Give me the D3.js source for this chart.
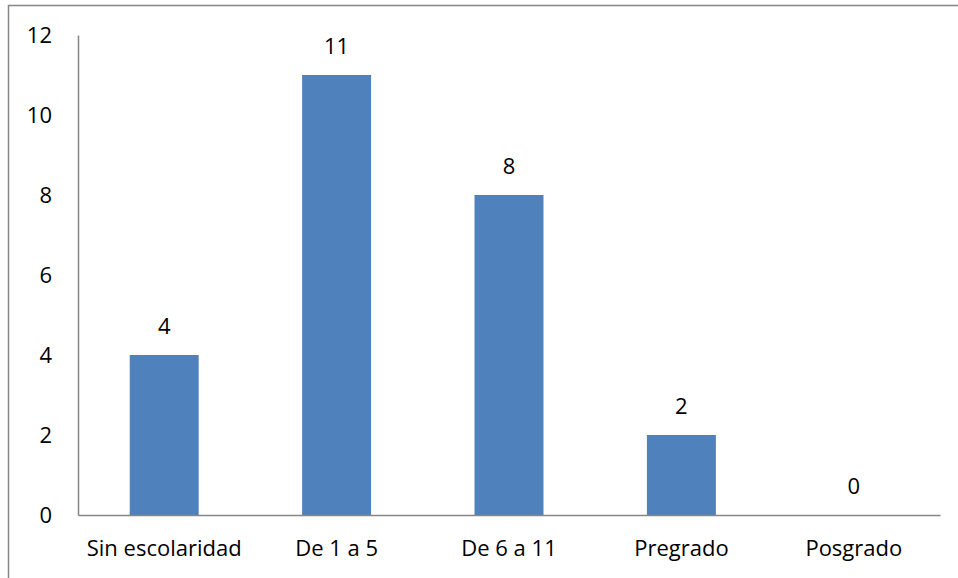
<!DOCTYPE html>
<html>
<head>
<meta charset="utf-8">
<script src="https://cdn.jsdelivr.net/npm/d3@7"></script>
<style>
  html, body { margin: 0; padding: 0; background: #fff; }
  svg { display: block; }
  text { font-family: "Open Sans", sans-serif; fill: #000; }
</style>
</head>
<body>
<svg id="chart" width="958" height="578"></svg>
<script>
// Nivel de escolaridad
const categories = ["Sin escolaridad", "De 1 a 5", "De 6 a 11", "Pregrado", "Posgrado"];
const values = [4, 11, 8, 2, 0];
const yTicks = [0, 2, 4, 6, 8, 10, 12];

const FONT = "'Open Sans', sans-serif";
const FS = 22;
const svg = d3.select("#chart");
const W = 958, H = 578;
const plot = { left: 78, right: 940, top: 35, bottom: 515 };

// outer frame of the chart area
svg.append("rect")
  .attr("x", 8.5).attr("y", 5.5)
  .attr("width", W + 20).attr("height", H + 20)
  .attr("fill", "none").attr("stroke", "#868686").attr("stroke-width", 1.5);

const x = d3.scaleBand().domain(categories).range([plot.left, plot.right]).paddingInner(0.6).paddingOuter(0.3);
const y = d3.scaleLinear().domain([0, 12]).range([plot.bottom, plot.top]);

// bars
svg.append("g").selectAll("rect").data(values).join("rect")
  .attr("x", (d, i) => x(categories[i]))
  .attr("y", d => y(d))
  .attr("width", x.bandwidth())
  .attr("height", d => y(0) - y(d))
  .attr("fill", "#4F81BD");

// y axis
const yAxis = d3.axisLeft(y).tickValues(yTicks).tickSize(0).tickPadding(26).tickFormat(d3.format("d"));
const gy = svg.append("g").attr("transform", `translate(${plot.left},0)`).call(yAxis);
gy.select(".domain").attr("stroke", "#868686").attr("stroke-width", 1.5);
gy.selectAll("text").attr("font-size", FS).attr("font-family", FONT).attr("dy", "0.35em");

// x axis
const xAxis = d3.axisBottom(x).tickSize(0).tickPadding(25);
const gx = svg.append("g").attr("transform", `translate(0,${plot.bottom})`).call(xAxis);
gx.select(".domain").attr("stroke", "#868686").attr("stroke-width", 1.5);
gx.selectAll("text").attr("font-size", FS).attr("font-family", FONT);

// value labels
svg.append("g").selectAll("text").data(values).join("text")
  .attr("x", (d, i) => x(categories[i]) + x.bandwidth() / 2)
  .attr("y", d => y(d) - 28.5)
  .attr("dy", "0.35em")
  .attr("text-anchor", "middle")
  .attr("font-size", FS)
  .attr("font-family", FONT)
  .text(d => d);
</script>
</body>
</html>
